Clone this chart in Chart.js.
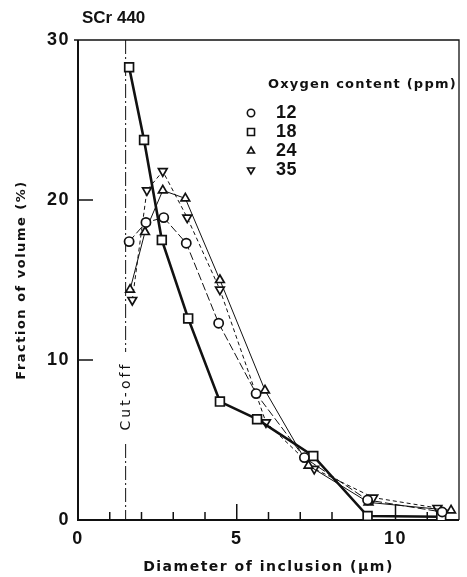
<!DOCTYPE html>
<html>
<head>
<meta charset="utf-8">
<script src="https://cdn.jsdelivr.net/npm/chart.js@4/dist/chart.umd.min.js"></script>
<style>
  html, body { margin: 0; padding: 0; background: #fff; }
  #wrap { width: 467px; height: 577px; }
</style>
</head>
<body>
<div id="wrap"><canvas id="volume_chart_area" width="467" height="577"></canvas></div>
<script>
"use strict"

// Size distribution of inclusions in SCr 440, one series per oxygen content
var oxygenLevels = ["12", "18", "24", "35"];

var diameter12 = [1.61, 2.14, 2.70, 3.41, 4.43, 5.61, 7.13, 9.12, 11.47];
var fraction12 = [17.4, 18.6, 18.9, 17.3, 12.3, 7.9, 3.9, 1.25, 0.5];

var diameter18 = [1.61, 2.08, 2.64, 3.47, 4.47, 5.64, 7.41, 9.12, 11.44];
var fraction18 = [28.3, 23.75, 17.5, 12.6, 7.4, 6.3, 4.0, 0.25, 0.2];

var diameter24 = [1.64, 2.11, 2.67, 3.38, 4.47, 5.89, 7.26, 9.15, 11.75];
var fraction24 = [14.4, 18.0, 20.6, 20.1, 15.0, 8.1, 3.4, 1.1, 0.6];

var diameter35 = [1.71, 2.17, 2.67, 3.44, 4.47, 5.92, 7.44, 9.30, 11.32];
var fraction35 = [13.75, 20.6, 21.8, 18.9, 14.4, 6.1, 3.2, 1.4, 0.75];

var cutOffDiameter = 1.5;
var xTickValues = [1, 2, 3, 4, 5, 6, 7, 8, 9, 10, 11];
var yTickValues = [10, 20];

var ink = "#111";
var numFont = "'Liberation Sans Narrow', 'Liberation Sans', Arial, sans-serif";
var textFont = "'DejaVu Sans', sans-serif";

function points(xs, ys) {
    return xs.map(function(x, i){ return {x: x, y: ys[i]}; });
}

function series(label, xs, ys, style, extra) {
    var ds = {
        label: label,
        data: points(xs, ys),
        showLine: true,
        fill: false,
        borderColor: ink,
        borderWidth: 1,
        pointStyle: style,
        pointRadius: 4.5,
        pointBorderWidth: 1.7,
        pointBorderColor: ink,
        pointBackgroundColor: "#fff",
        lineTension: 0
    };
    for (var k in extra) ds[k] = extra[k];
    return ds;
}

var datasets = [
    series(oxygenLevels[0], diameter12, fraction12, "circle", {borderDash: [8, 3], pointRadius: 4.6}),
    series(oxygenLevels[1], diameter18, fraction18, "rect", {borderWidth: 2.6, pointRadius: 6.2}),
    series(oxygenLevels[2], diameter24, fraction24, "triangle", {pointRadius: 5}),
    series(oxygenLevels[3], diameter35, fraction35, "triangle", {borderDash: [4, 3], pointRadius: 5, pointRotation: 180})
];

// frame, inner ticks, cut-off line, legend and heading
var decorations = {
    id: "decorations",
    beforeDraw: function(chart){
        // the typewriter-style lettering is widely spaced
        chart.ctx.letterSpacing = "1.5px";
    },
    beforeDatasetsDraw: function(chart){
        var ctx = chart.ctx, a = chart.chartArea;
        var xs = chart.scales.x, ys = chart.scales.y;
        ctx.save();
        ctx.strokeStyle = ink;

        // cut-off marker, broken where its label sits
        var cx = xs.getPixelForValue(cutOffDiameter);
        ctx.lineWidth = 1;
        ctx.setLineDash([14, 3, 2, 3]);
        ctx.beginPath();
        ctx.moveTo(cx, a.top);
        ctx.lineTo(cx, 352);
        ctx.moveTo(cx, 444);
        ctx.lineTo(cx, a.bottom);
        ctx.stroke();
        ctx.setLineDash([]);

        ctx.translate(cx + 1, 397);
        ctx.rotate(-Math.PI / 2);
        ctx.fillStyle = ink;
        ctx.letterSpacing = "3px";
        ctx.font = "14px " + textFont;
        ctx.textAlign = "center";
        ctx.textBaseline = "middle";
        ctx.fillText("Cut-off", 1, 0);
        ctx.restore();

        ctx.save();
        ctx.strokeStyle = ink;
        ctx.lineWidth = 1.5;
        xTickValues.forEach(function(v){
            var px = xs.getPixelForValue(v);
            var len = (v % 5 === 0) ? 16 : 8;
            ctx.beginPath();
            ctx.moveTo(px, a.bottom);
            ctx.lineTo(px, a.bottom - len);
            ctx.stroke();
        });
        yTickValues.forEach(function(v){
            var py = ys.getPixelForValue(v);
            ctx.beginPath();
            ctx.moveTo(a.left, py);
            ctx.lineTo(a.left + 15, py);
            ctx.stroke();
        });

        ctx.lineWidth = 1.3;
        ctx.beginPath();
        ctx.moveTo(a.left - 4, a.top);
        ctx.lineTo(a.right, a.top);
        ctx.lineTo(a.right, a.bottom);
        ctx.stroke();
        ctx.lineWidth = 2;
        ctx.beginPath();
        ctx.moveTo(a.left, a.top);
        ctx.lineTo(a.left, a.bottom);
        ctx.lineTo(a.right, a.bottom);
        ctx.stroke();
        ctx.restore();
    },
    afterDraw: function(chart){
        var ctx = chart.ctx;
        ctx.save();
        ctx.fillStyle = ink;
        ctx.textBaseline = "middle";
        ctx.textAlign = "left";

        ctx.letterSpacing = "0px";
        ctx.font = "bold 17px " + numFont;
        ctx.fillText("SCr 440", 82, 18);

        ctx.letterSpacing = "1.2px";
        ctx.font = "bold 13px " + textFont;
        ctx.fillText("Oxygen content (ppm)", 268, 85);

        chart.data.datasets.forEach(function(ds, i){
            var y = 113 + i * 19;
            ctx.strokeStyle = ink;
            ctx.lineWidth = 1.6;
            ctx.fillStyle = "#fff";
            Chart.helpers.drawPoint(ctx, {
                pointStyle: ds.pointStyle,
                rotation: ds.pointRotation || 0,
                radius: ds.pointRadius * 0.8,
                borderWidth: 1.6
            }, 251, y);
            ctx.fillStyle = ink;
            ctx.letterSpacing = "0.5px";
            ctx.font = "bold 18px " + numFont;
            ctx.fillText(ds.label, 276, y);
        });
        ctx.restore();
    }
};

var volumeChart = new Chart(document.getElementById("volume_chart_area"), {
    type: "scatter",
    data: {datasets: datasets},
    options: {
        responsive: false,
        animation: false,
        events: [],
        layout: {padding: {left: 0, top: 40, right: 2, bottom: 0}},
        plugins: {
            legend: {display: false},
            tooltip: {enabled: false}
        },
        scales: {
            x: {
                type: "linear",
                min: 0,
                max: 12,
                afterFit: function(s){ s.height = 57; },
                grid: {display: false, drawTicks: false},
                border: {display: false},
                ticks: {
                    stepSize: 1,
                    autoSkip: false,
                    maxRotation: 0,
                    padding: 8,
                    color: ink,
                    font: {family: numFont, size: 18, weight: "bold"},
                    callback: function(v){ return (v % 5 === 0 && v < 12) ? v : ""; }
                },
                title: {
                    display: true,
                    text: "Diameter of inclusion (μm)",
                    color: ink,
                    font: {family: textFont, size: 14, weight: "bold"},
                    padding: {top: 0, bottom: 1}
                }
            },
            y: {
                type: "linear",
                min: 0,
                max: 30,
                afterFit: function(s){ s.width = 78; },
                grid: {display: false, drawTicks: false},
                border: {display: false},
                ticks: {
                    stepSize: 10,
                    padding: 8,
                    color: ink,
                    font: {family: numFont, size: 18, weight: "bold"}
                },
                title: {
                    display: true,
                    text: "Fraction of volume (%)",
                    color: ink,
                    font: {family: textFont, size: 13, weight: "bold"},
                    padding: {top: 14, bottom: 0}
                }
            }
        }
    },
    plugins: [decorations]
});
</script>
</body>
</html>
